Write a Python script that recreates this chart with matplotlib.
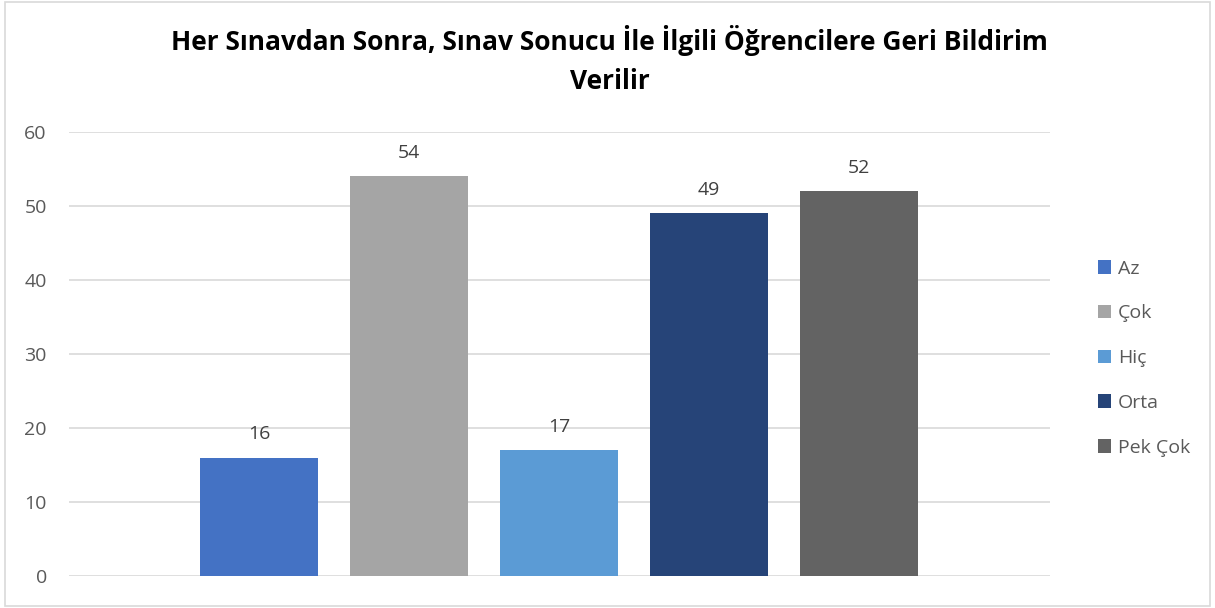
import matplotlib
matplotlib.use("Agg")
import matplotlib.pyplot as plt
from matplotlib.patches import Rectangle, Patch

plt.rcParams['font.family'] = ['Open Sans', 'DejaVu Sans']

categories = ["Az", "Çok", "Hiç", "Orta", "Pek Çok"]
values = [16, 54, 17, 49, 52]
colors = ["#4472C4", "#A5A5A5", "#5B9BD5", "#264478", "#636363"]
yticks = [0, 10, 20, 30, 40, 50, 60]
title = "Her Sınavdan Sonra, Sınav Sonucu İle İlgili Öğrencilere Geri Bildirim\nVerilir"

fig = plt.figure(figsize=(12.15, 6.08), dpi=100)
ax = fig.add_axes([69/1215, 1-576/608, (1050-69)/1215, (576-132)/608])

x = list(range(len(values)))
bars = ax.bar(x, values, width=0.787, color=colors, zorder=3)
for xi, v in zip(x, values):
    ax.annotate(str(v), (xi, v), xytext=(0, 10.5), textcoords='offset points',
                ha='center', va='bottom', fontsize=14, color='#404040')

ax.set_xlim(-1.267, 5.273)
ax.set_ylim(0, 60)
ax.set_yticks(yticks)
ax.set_yticklabels([str(t) for t in yticks], fontsize=14, color='#595959')
ax.tick_params(axis='y', length=0, pad=16)
ax.set_xticks([])
for s in ax.spines.values():
    s.set_visible(False)
ax.yaxis.grid(True, color='#D9D9D9', linewidth=1.2, zorder=0)

handles = [Patch(facecolor=c, label=l) for c, l in zip(colors, categories)]
fig.legend(handles=handles, loc='upper left', bbox_to_anchor=(1080/1215, 1-242/608),
           frameon=False, fontsize=14, labelcolor='#595959', handlelength=0.7,
           handleheight=0.7, handletextpad=0.35, labelspacing=1.38)

fig.text(0.502, 1-25/608, title, ha='center', va='top', fontsize=19,
         fontweight='bold', color='black', linespacing=1.55)

fig.patches.append(Rectangle((5/1215, 2/608), 1-10/1215, 1-4/608, transform=fig.transFigure,
                             fill=False, edgecolor='#D9D9D9', linewidth=1.2))

fig.savefig("out.png", dpi=100)
